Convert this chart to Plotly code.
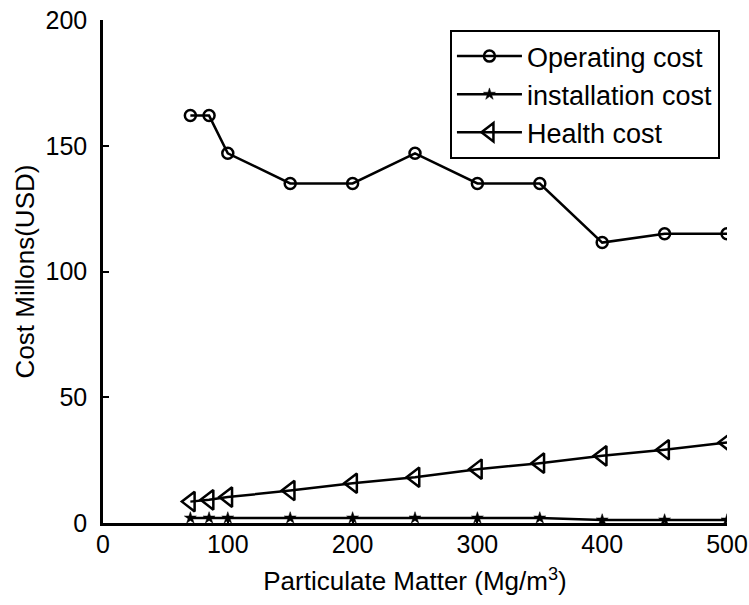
import plotly.graph_objects as go

pm = [70, 85, 100, 150, 200, 250, 300, 350, 400, 450, 500]
operating_cost = [162, 162, 147, 135, 135, 147, 135, 135, 111.5, 115, 115]
installation_cost = [2, 2, 2, 2, 2, 2, 2, 2, 1.2, 1.2, 1.2]
health_cost = [8.5, 9.2, 10.3, 12.9, 15.8, 18.2, 21.4, 23.8, 26.7, 29.1, 32.0]

FONT = "Liberation Sans, Arial, sans-serif"

fig = go.Figure()
fig.add_trace(go.Scatter(
    x=pm, y=operating_cost, name="Operating cost", mode="lines+markers",
    line=dict(color="black", width=2.5), legendgroup="a",
    marker=dict(symbol="circle-open", size=11, color="black", line=dict(width=2.5, color="black"))))
fig.add_trace(go.Scatter(
    x=pm, y=installation_cost, name="installation cost", mode="lines+markers",
    line=dict(color="black", width=2.5), legendgroup="b",
    marker=dict(symbol="star", size=9, color="black", line=dict(width=0.5, color="black"))))
fig.add_trace(go.Scatter(
    x=pm, y=health_cost, name="Health cost", mode="lines+markers",
    line=dict(color="black", width=2.5), legendgroup="c",
    marker=dict(symbol="triangle-left-open", size=17, color="black", line=dict(width=2.5, color="black"))))

fig.update_layout(
    width=749, height=605,
    margin=dict(l=103, r=22, t=20, b=82, autoexpand=False),
    paper_bgcolor="white", plot_bgcolor="white",
    font=dict(family=FONT, size=26, color="black"),
    showlegend=True,
    legend=dict(
        x=0.556, y=0.98, xanchor="left", yanchor="top",
        bgcolor="white", bordercolor="black", borderwidth=2,
        font=dict(family=FONT, size=27, color="black"),
        itemwidth=65, tracegroupgap=0, traceorder="grouped",
    ),
    xaxis=dict(
        range=[0, 500], tickvals=[0, 100, 200, 300, 400, 500],
        showline=True, linecolor="black", linewidth=2.5, mirror=False,
        ticks="inside", ticklen=6, tickwidth=2, tickcolor="black",
        showgrid=False, zeroline=False, automargin=False,
        ticklabelstandoff=-3, ticklabeloverflow="allow",
        title=dict(text="Particulate Matter (Mg/m<sup>3</sup>)", standoff=16,
                   font=dict(family=FONT, size=26)),
        tickfont=dict(family=FONT, size=25),
    ),
    yaxis=dict(
        range=[0, 200], tickvals=[0, 50, 100, 150, 200],
        showline=True, linecolor="black", linewidth=2.5, mirror=False,
        ticks="inside", ticklen=6, tickwidth=2, tickcolor="black",
        showgrid=False, zeroline=False, automargin=False,
        ticklabelstandoff=8, ticklabeloverflow="allow",
        title=dict(text="Cost Millons(USD)", standoff=4,
                   font=dict(family=FONT, size=26)),
        tickfont=dict(family=FONT, size=25),
    ),
)

# remove the browser's default 8px body margin so the figure fills the window exactly
fig.write_html("out.html", config={"displayModeBar": False},
               post_script="document.body.style.margin='0';")
